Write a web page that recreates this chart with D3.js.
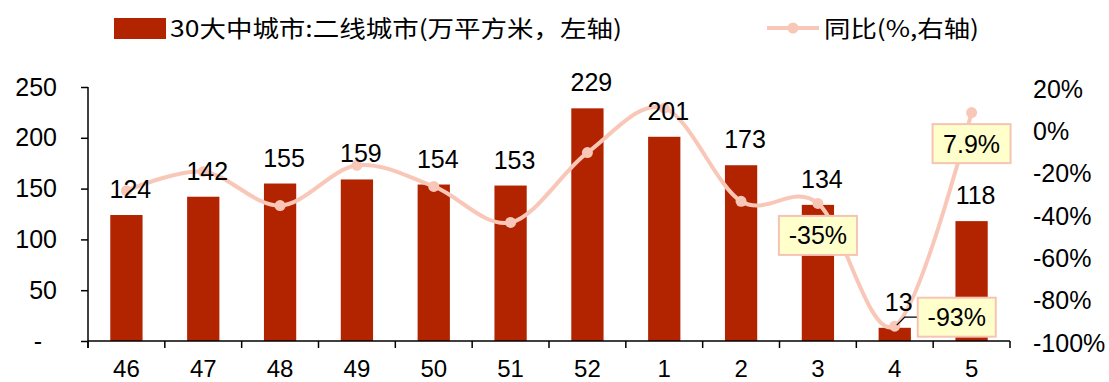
<!DOCTYPE html>
<html>
<head>
<meta charset="utf-8">
<script src="https://cdn.jsdelivr.net/npm/d3@7"></script>
<style>
  html, body { margin: 0; padding: 0; background: #fff; }
  svg { display: block; }
  text { font-family: "Liberation Sans", Arial, "Noto Sans CJK SC", sans-serif; fill: #000; }
</style>
</head>
<body>
<svg id="chart" width="1109" height="382"></svg>
<script>
// Weekly categories (week number)
const categories = ["46", "47", "48", "49", "50", "51", "52", "1", "2", "3", "4", "5"];
// Transaction area, 10k m² (left axis)
const areaValues = [124, 142, 155, 159, 154, 153, 229, 201, 173, 134, 13, 118];
// Year-on-year change, % (right axis)
const yoyValues = [-29, -20, -36, -17, -27, -44, -11, 10, -34, -35, -93, 7.9];
// Callout boxes on selected YoY points
const yoyCallouts = [
  { index: 9, text: "-35%" },
  { index: 10, text: "-93%" },
  { index: 11, text: "7.9%" }
];
const leftTicks = [0, 50, 100, 150, 200, 250];
const rightTicks = [-100, -80, -60, -40, -20, 0, 20];
const legendBarLabel = "30大中城市:二线城市(万平方米，左轴)";
const legendLineLabel = "同比(%,右轴)";

const barColor = "#B22400";
const lineColor = "#F9C7B8";
const boxFill = "#FFFFCC";
const boxStroke = "#F7C4B4";

const svg = d3.select("#chart");
const plot = { left: 88, right: 1010, top: 87, bottom: 341 };

const x = d3.scaleBand().domain(categories).range([plot.left, plot.right]).paddingInner(0).paddingOuter(0);
const yL = d3.scaleLinear().domain([0, 250]).range([plot.bottom, plot.top]);
const yR = d3.scaleLinear().domain([-100, 20]).range([plot.bottom, plot.top]);
const cx = c => x(c) + x.bandwidth() / 2;
const barW = x.bandwidth() * 0.42;

// Bars
svg.append("g").selectAll("rect").data(areaValues).join("rect")
  .attr("x", (d, i) => cx(categories[i]) - barW / 2)
  .attr("width", barW)
  .attr("y", d => yL(d))
  .attr("height", d => yL(0) - yL(d))
  .attr("fill", barColor);

// Left axis
const leftAxis = d3.axisLeft(yL).tickValues(leftTicks).tickSize(7).tickPadding(24)
  .tickFormat(d => d === 0 ? "-" : d);
const gL = svg.append("g").attr("transform", `translate(${plot.left},0)`).call(leftAxis);
gL.select(".domain").attr("d", `M0,${plot.top}V${plot.bottom + 7}`).attr("stroke", "#000").attr("stroke-width", 1.5);
gL.selectAll(".tick line").attr("stroke", "#000").attr("stroke-width", 1.5);
gL.selectAll(".tick text").style("font-size", "25px").style("font-family", "'Liberation Sans', Arial, sans-serif").attr("fill", "#000")
  .attr("x", d => d === 0 ? -46 : -31);

// Bottom axis: line with ticks at category boundaries
const gX = svg.append("g");
gX.append("line").attr("x1", plot.left).attr("x2", plot.right)
  .attr("y1", plot.bottom).attr("y2", plot.bottom).attr("stroke", "#000").attr("stroke-width", 1.5);
const boundaries = categories.map(c => x(c)).concat([plot.right]);
gX.selectAll("line.tk").data(boundaries).join("line").attr("class", "tk")
  .attr("x1", d => d).attr("x2", d => d)
  .attr("y1", plot.bottom).attr("y2", plot.bottom + 7)
  .attr("stroke", "#000").attr("stroke-width", 1.5);
gX.selectAll("text").data(categories).join("text")
  .attr("x", d => cx(d))
  .attr("y", 377)
  .attr("text-anchor", "middle")
  .style("font-size", "24px")
  .text(d => d);

// Right axis: labels only
const rightAxis = d3.axisRight(yR).tickValues(rightTicks).tickSize(0).tickPadding(23)
  .tickFormat(d => d + "%");
const gR = svg.append("g").attr("transform", `translate(${plot.right},0)`).call(rightAxis);
gR.select(".domain").remove();
gR.selectAll(".tick text").style("font-size", "25px").style("font-family", "'Liberation Sans', Arial, sans-serif").attr("fill", "#000")
  .attr("dy", "0.4em");

// YoY smooth line
const line = d3.line()
  .x((d, i) => cx(categories[i]))
  .y(d => yR(d))
  .curve(d3.curveCardinal.tension(0));
svg.append("path").datum(yoyValues)
  .attr("d", line)
  .attr("fill", "none")
  .attr("stroke", lineColor)
  .attr("stroke-width", 4)
  .attr("stroke-linecap", "round");
svg.append("g").selectAll("circle").data(yoyValues).join("circle")
  .attr("cx", (d, i) => cx(categories[i]))
  .attr("cy", d => yR(d))
  .attr("r", 5.5)
  .attr("fill", lineColor);

// Bar value labels, drawn above the line
svg.append("g").selectAll("text").data(areaValues).join("text")
  .attr("x", (d, i) => cx(categories[i]) + 4)
  .attr("y", d => yL(d) - 17)
  .attr("text-anchor", "middle")
  .style("font-size", "25px")
  .text(d => d);

// Callout boxes
const boxOffsets = { 9: { dx: 0, dy: 32 }, 10: { dx: 62, dy: -9 }, 11: { dx: 0, dy: 31 } };
const boxW = 78, boxH = 39;
const gC = svg.append("g");
yoyCallouts.forEach(c => {
  const px = cx(categories[c.index]);
  const py = yR(yoyValues[c.index]);
  const off = boxOffsets[c.index];
  const bx = px + off.dx, by = py + off.dy;
  if (c.index === 10) {
    // leader line from the point to the box
    gC.append("polyline")
      .attr("points", `${px + 2},${py - 1} ${px + 10},${by} ${bx - boxW / 2},${by}`)
      .attr("fill", "none").attr("stroke", "#000").attr("stroke-width", 1.2);
  }
  gC.append("rect")
    .attr("x", bx - boxW / 2).attr("y", by - boxH / 2)
    .attr("width", boxW).attr("height", boxH)
    .attr("fill", boxFill).attr("stroke", boxStroke).attr("stroke-width", 2);
  gC.append("text")
    .attr("x", bx).attr("y", by + 9)
    .attr("text-anchor", "middle")
    .style("font-size", "25px")
    .text(c.text);
});

// Legend
const gLeg = svg.append("g");
gLeg.append("rect").attr("x", 114).attr("y", 18).attr("width", 52).attr("height", 21).attr("fill", barColor);
gLeg.append("text").attr("x", 170).attr("y", 37)
  .style("font-size", "23px")
  .style("font-family", "'Noto Sans CJK SC', 'Liberation Sans', sans-serif")
  .attr("textLength", 452).attr("lengthAdjust", "spacingAndGlyphs")
  .text(legendBarLabel);
gLeg.append("line").attr("x1", 767).attr("x2", 819).attr("y1", 28).attr("y2", 28)
  .attr("stroke", lineColor).attr("stroke-width", 4);
gLeg.append("circle").attr("cx", 793).attr("cy", 28).attr("r", 5.5).attr("fill", lineColor);
gLeg.append("text").attr("x", 824).attr("y", 37)
  .style("font-size", "23px")
  .style("font-family", "'Noto Sans CJK SC', 'Liberation Sans', sans-serif")
  .attr("textLength", 155).attr("lengthAdjust", "spacingAndGlyphs")
  .text(legendLineLabel);
</script>
</body>
</html>
